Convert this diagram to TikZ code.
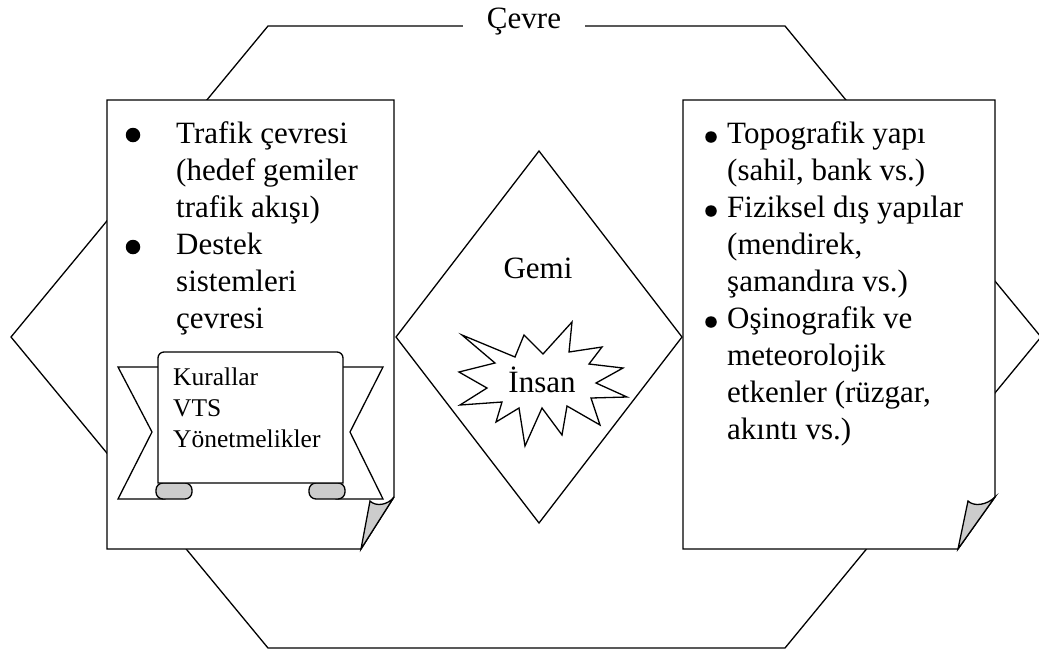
\documentclass[tikz,border=0pt]{standalone}
\usepackage{fontspec}
\setmainfont{Liberation Serif}
\definecolor{foldgray}{gray}{0.8}
\tikzset{
  outline/.style={draw=black, line width=1.3pt, line join=miter},
  paper/.style={outline, fill=white},
  foldpart/.style={outline, fill=foldgray},
  bodytext/.style={anchor=base west, inner sep=0pt, font=\fontsize{31}{37}\selectfont},
  scrolltext/.style={anchor=base west, inner sep=0pt, font=\fontsize{25.5}{31}\selectfont},
  centertext/.style={anchor=base, inner sep=0pt, font=\fontsize{31}{37}\selectfont},
  dotmark/.style={circle, fill=black, inner sep=0pt, minimum size=#1},
  dotmark/.default=11.5pt,
}

\begin{document}
\begin{tikzpicture}[x=1pt, y=-1pt]
  \useasboundingbox (0,0) rectangle (1039,649);
  % outer hexagon (environment)
  \draw[outline] (11,337) -- (268,26) -- (785,26) -- (1041,337) -- (785,648) -- (268,648) -- cycle;
  \node[fill=white, inner xsep=24pt, inner ysep=3pt, anchor=base, font=\fontsize{31}{37}\selectfont] (cevre) at (524,28) {Çevre};

  % left sheet
  \draw[paper] (107,100) -- (394,100) -- (394,497) -- (361,549) -- (107,549) -- cycle;
  \draw[foldpart] (361,549) -- (370,501) .. controls (376,507) and (388,505) .. (394,497) -- cycle;
  % right sheet
  \draw[paper] (683,100) -- (995,100) -- (995,497) -- (958,549) -- (683,549) -- cycle;
  \draw[foldpart] (958,549) -- (968,501) .. controls (974,507) and (987,505) .. (995,497) -- cycle;

  % ship diamond and human burst
  \draw[paper] (539,151) -- (682,337) -- (539,523) -- (396,337) -- cycle;
  \draw[paper] (462,335) -- (515,357) -- (524,335) -- (543,354) -- (572,322) -- (569,352)
    -- (602,347) -- (589,364) -- (623,368) -- (596,383) -- (627,397) -- (591,398)
    -- (600,425) -- (567,406) -- (562,435) -- (542,408) -- (525,446) -- (519,408)
    -- (496,422) -- (502,402) -- (460,405) -- (487,388) -- (459,372) -- (495,363) -- cycle;
  \node[centertext] (ship) at (538,278) {Gemi};
  \node[centertext] (human) at (542,392) {İnsan};

  % left items
  \node[dotmark=14.5pt] (lbul1) at (133,135) {};
  \node[dotmark=14.5pt] (lbul2) at (133,247) {};
  \foreach \txt [count=\i from 0] in {{Trafik çevresi},{(hedef gemiler},{trafik akışı)},{Destek},{sistemleri},{çevresi}}
    \node[bodytext] (lt\i) at (176,143+37*\i) {\txt};

  % scroll
  \draw[paper] (118,367) -- (165,367) -- (165,499) -- (118,499) -- (152,432) -- cycle;
  \draw[paper] (383,367) -- (336,367) -- (336,499) -- (383,499) -- (350,432) -- cycle;
  \draw[foldpart, rounded corners=7pt] (156,483) rectangle (192,499);
  \draw[foldpart, rounded corners=7pt] (309,483) rectangle (345,499);
  \draw[paper] (158,483) [rounded corners=6pt] -- (158,352) -- (343,352) [sharp corners] -- (343,483) -- cycle;
  \foreach \txt [count=\i from 0] in {Kurallar,VTS,Yönetmelikler}
    \node[scrolltext] (sc\i) at (173,385+31*\i) {\txt};

  % right items
  \node[dotmark] (rbul1) at (711,137) {};
  \node[dotmark] (rbul2) at (711,211) {};
  \node[dotmark] (rbul3) at (711,322) {};
  \foreach \txt [count=\i from 0] in {{Topografik yapı},{(sahil, bank vs.)},{Fiziksel dış yapılar},{(mendirek,},{şamandıra vs.)},{Oşinografik ve},{meteorolojik},{etkenler (rüzgar,},{akıntı vs.)}}
    \node[bodytext] (rt\i) at (727,143+37*\i) {\txt};
\end{tikzpicture}
\end{document}
